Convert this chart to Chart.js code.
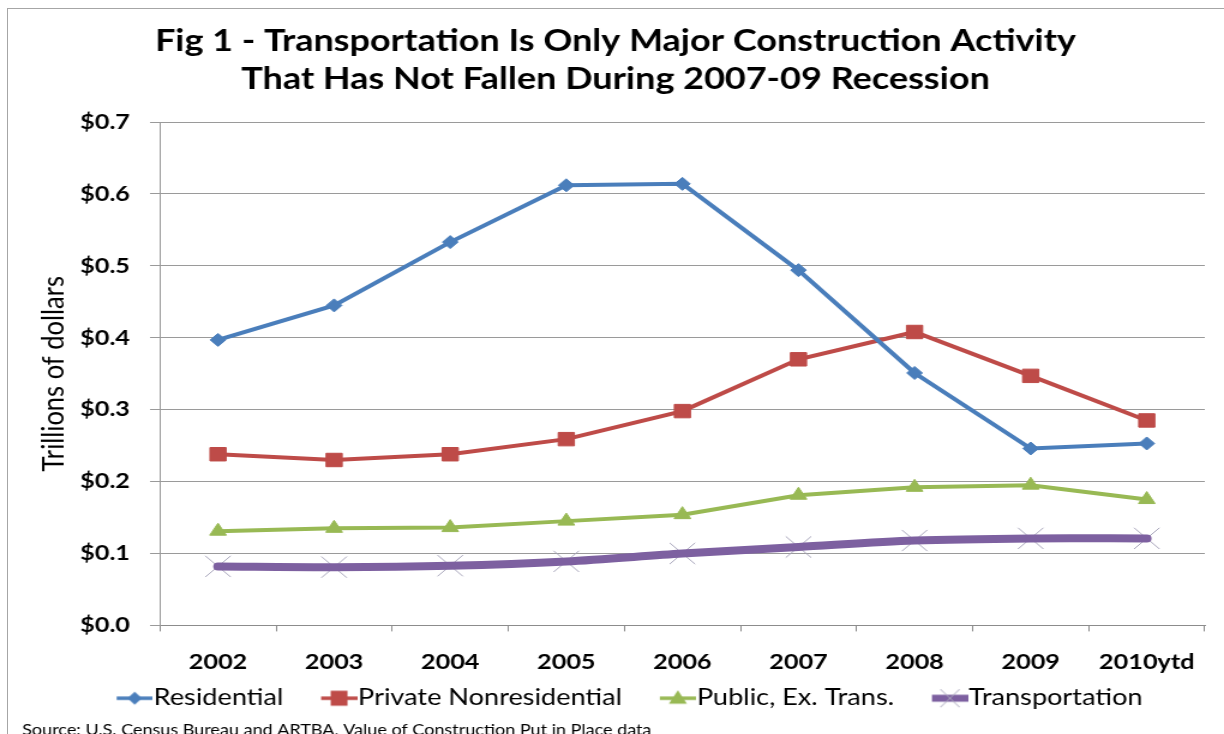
<!DOCTYPE html>
<html>
<head>
<meta charset="utf-8">
<script src="https://cdn.jsdelivr.net/npm/chart.js@4.4.1/dist/chart.umd.min.js"></script>
<style>
  html, body { margin: 0; padding: 0; background: #fff; overflow: hidden; }
  #frame { position: absolute; left: 7px; top: 8px; width: 1230px; height: 740px;
           border-left: 1px solid #a6a6a6; border-top: 1px solid #a6a6a6; }
  /* the original figure is stretched sideways, so the chart is drawn 1020 wide and widened 1.2x */
  #wrap { position: absolute; left: 0; top: 0; width: 1020px; height: 734px;
          transform: scaleX(1.2); transform-origin: 0 0; }
</style>
</head>
<body>
<div id="frame"></div>
<div id="wrap"><canvas id="chartFig1" width="1020" height="734"></canvas></div>
<script>
// data (trillions of dollars)
const years = ["2002", "2003", "2004", "2005", "2006", "2007", "2008", "2009", "2010ytd"];
const residential = [0.397, 0.445, 0.533, 0.612, 0.614, 0.494, 0.351, 0.246, 0.253];
const privateNonres = [0.238, 0.230, 0.238, 0.259, 0.298, 0.370, 0.408, 0.347, 0.285];
const publicExTrans = [0.131, 0.135, 0.136, 0.145, 0.154, 0.181, 0.192, 0.195, 0.175];
const transportation = [0.082, 0.081, 0.083, 0.089, 0.100, 0.109, 0.118, 0.121, 0.121];
const yTicks = [0, 0.1, 0.2, 0.3, 0.4, 0.5, 0.6, 0.7];

const titleLines = [
    "Fig 1 - Transportation Is Only Major Construction Activity",
    "That Has Not Fallen During 2007-09 Recession"
];
const legendNames = ["Residential", "Private Nonresidential", "Public, Ex. Trans.", "Transportation"];
const sourceText = "Source: U.S. Census Bureau and ARTBA, Value of Construction Put in Place data";

const fontFamily = "Lato, 'Liberation Sans', sans-serif";
const blue = "#4a7ebb";
const red = "#be4b48";
const green = "#98b954";
const purple = "#7d60a0";
const crossGrey = "#a8a6bb";

// legend marker: short line with the series marker on it (transparent room on the left)
function legendMarker(lineColor, lineWidth, markFn) {
    const c = document.createElement("canvas");
    c.width = 64;
    c.height = 24;
    const ctx = c.getContext("2d");
    ctx.strokeStyle = lineColor;
    ctx.lineWidth = lineWidth;
    ctx.beginPath();
    ctx.moveTo(34, 12);
    ctx.lineTo(64, 12);
    ctx.stroke();
    markFn(ctx, 49, 12);
    return c;
}

const legendImages = [
    legendMarker(blue, 3.5, (ctx, x, y) => {
        ctx.fillStyle = blue;
        ctx.beginPath();
        ctx.moveTo(x, y - 6.5); ctx.lineTo(x + 6, y); ctx.lineTo(x, y + 6.5); ctx.lineTo(x - 6, y);
        ctx.closePath();
        ctx.fill();
    }),
    legendMarker(red, 3.5, (ctx, x, y) => {
        ctx.fillStyle = red;
        ctx.fillRect(x - 7, y - 7.5, 14, 15);
    }),
    legendMarker(green, 3.5, (ctx, x, y) => {
        ctx.fillStyle = green;
        ctx.beginPath();
        ctx.moveTo(x, y - 8); ctx.lineTo(x + 7.5, y + 5.5); ctx.lineTo(x - 7.5, y + 5.5);
        ctx.closePath();
        ctx.fill();
    }),
    legendMarker(purple, 7, (ctx, x, y) => {
        ctx.strokeStyle = crossGrey;
        ctx.lineWidth = 1;
        ctx.beginPath();
        ctx.moveTo(x - 8, y - 9); ctx.lineTo(x + 8, y + 9);
        ctx.moveTo(x + 8, y - 9); ctx.lineTo(x - 8, y + 9);
        ctx.stroke();
    })
];

// source note under the legend
const sourceNote = {
    id: "sourceNote",
    afterDraw(chart) {
        const ctx = chart.ctx;
        ctx.save();
        ctx.font = "15px " + fontFamily;
        ctx.fillStyle = "#000";
        ctx.textBaseline = "middle";
        ctx.fillText(sourceText, 18.5, 730);
        ctx.restore();
    }
};

const chartFig1 = new Chart(document.getElementById("chartFig1"), {
    type: "line",
    data: {
        labels: years,
        datasets: [
            {
                label: "Residential",
                data: residential,
                borderColor: blue,
                backgroundColor: blue,
                borderWidth: 4,
                pointStyle: "rectRot",
                pointRadius: 6.5,
                pointBorderWidth: 1,
                order: 0
            },
            {
                label: "Private Nonresidential",
                data: privateNonres,
                borderColor: red,
                backgroundColor: red,
                borderWidth: 4,
                pointStyle: "rect",
                pointRadius: 9.5,
                pointBorderWidth: 1,
                order: 0
            },
            {
                label: "Public, Ex. Trans.",
                data: publicExTrans,
                borderColor: green,
                backgroundColor: green,
                borderWidth: 4,
                pointStyle: "triangle",
                pointRadius: 8,
                pointBorderWidth: 1,
                order: 0
            },
            {
                label: "Transportation",
                data: transportation,
                borderColor: purple,
                backgroundColor: purple,
                borderWidth: 8,
                borderCapStyle: "round",
                tension: 0.3,
                pointRadius: 0,
                order: 0
            },
            {
                // grey crosses sit behind the thick purple line
                label: "Transportation markers",
                data: transportation,
                showLine: false,
                pointStyle: "crossRot",
                pointRadius: 15,
                pointBorderColor: crossGrey,
                pointBorderWidth: 1,
                order: 1
            }
        ]
    },
    options: {
        responsive: false,
        animation: false,
        devicePixelRatio: 1,
        layout: { padding: { left: 20, right: 14.2, top: 0, bottom: 14.5 } },
        plugins: {
            title: {
                display: true,
                text: titleLines,
                color: "#000",
                font: { family: fontFamily, size: 30, weight: "bold", lineHeight: 1.25 },
                padding: { top: 23, bottom: 24 }
            },
            legend: {
                position: "bottom",
                labels: {
                    usePointStyle: true,
                    pointStyleWidth: 43,
                    boxHeight: 23,
                    padding: 8,
                    color: "#000",
                    font: { family: fontFamily, size: 22.6 },
                    generateLabels: () => legendNames.map((name, i) => ({
                        text: name,
                        pointStyle: legendImages[i],
                        fillStyle: "transparent",
                        strokeStyle: "transparent",
                        lineWidth: 0,
                        hidden: false,
                        datasetIndex: i
                    }))
                }
            },
            tooltip: { enabled: false }
        },
        scales: {
            x: {
                type: "category",
                offset: true,
                grid: { offset: true, drawOnChartArea: false, drawTicks: true, tickLength: 6, color: "#8c8c8c" },
                border: { color: "#8c8c8c" },
                ticks: {
                    color: "#000",
                    padding: 18,
                    font: { family: fontFamily, size: 21, weight: "bold" }
                },
                afterFit: (scale) => { scale.height = 53.5; }
            },
            y: {
                min: yTicks[0],
                max: yTicks[yTicks.length - 1],
                afterBuildTicks: (scale) => { scale.ticks = yTicks.map(v => ({ value: v })); },
                grid: { color: "#9a9a9a", tickLength: 8.3 },
                border: { color: "#9a9a9a" },
                ticks: {
                    color: "#000",
                    padding: 16.7,
                    font: { family: fontFamily, size: 21, weight: "bold" },
                    callback: (v) => "$" + Number(v).toFixed(1)
                },
                title: {
                    display: true,
                    text: "Trillions of dollars",
                    color: "#000",
                    font: { family: fontFamily, size: 25.5 },
                    padding: { top: 9.5, bottom: 0 }
                },
                afterFit: (scale) => { scale.width = 113.3; }
            }
        }
    },
    plugins: [sourceNote]
});
</script>
</body>
</html>
